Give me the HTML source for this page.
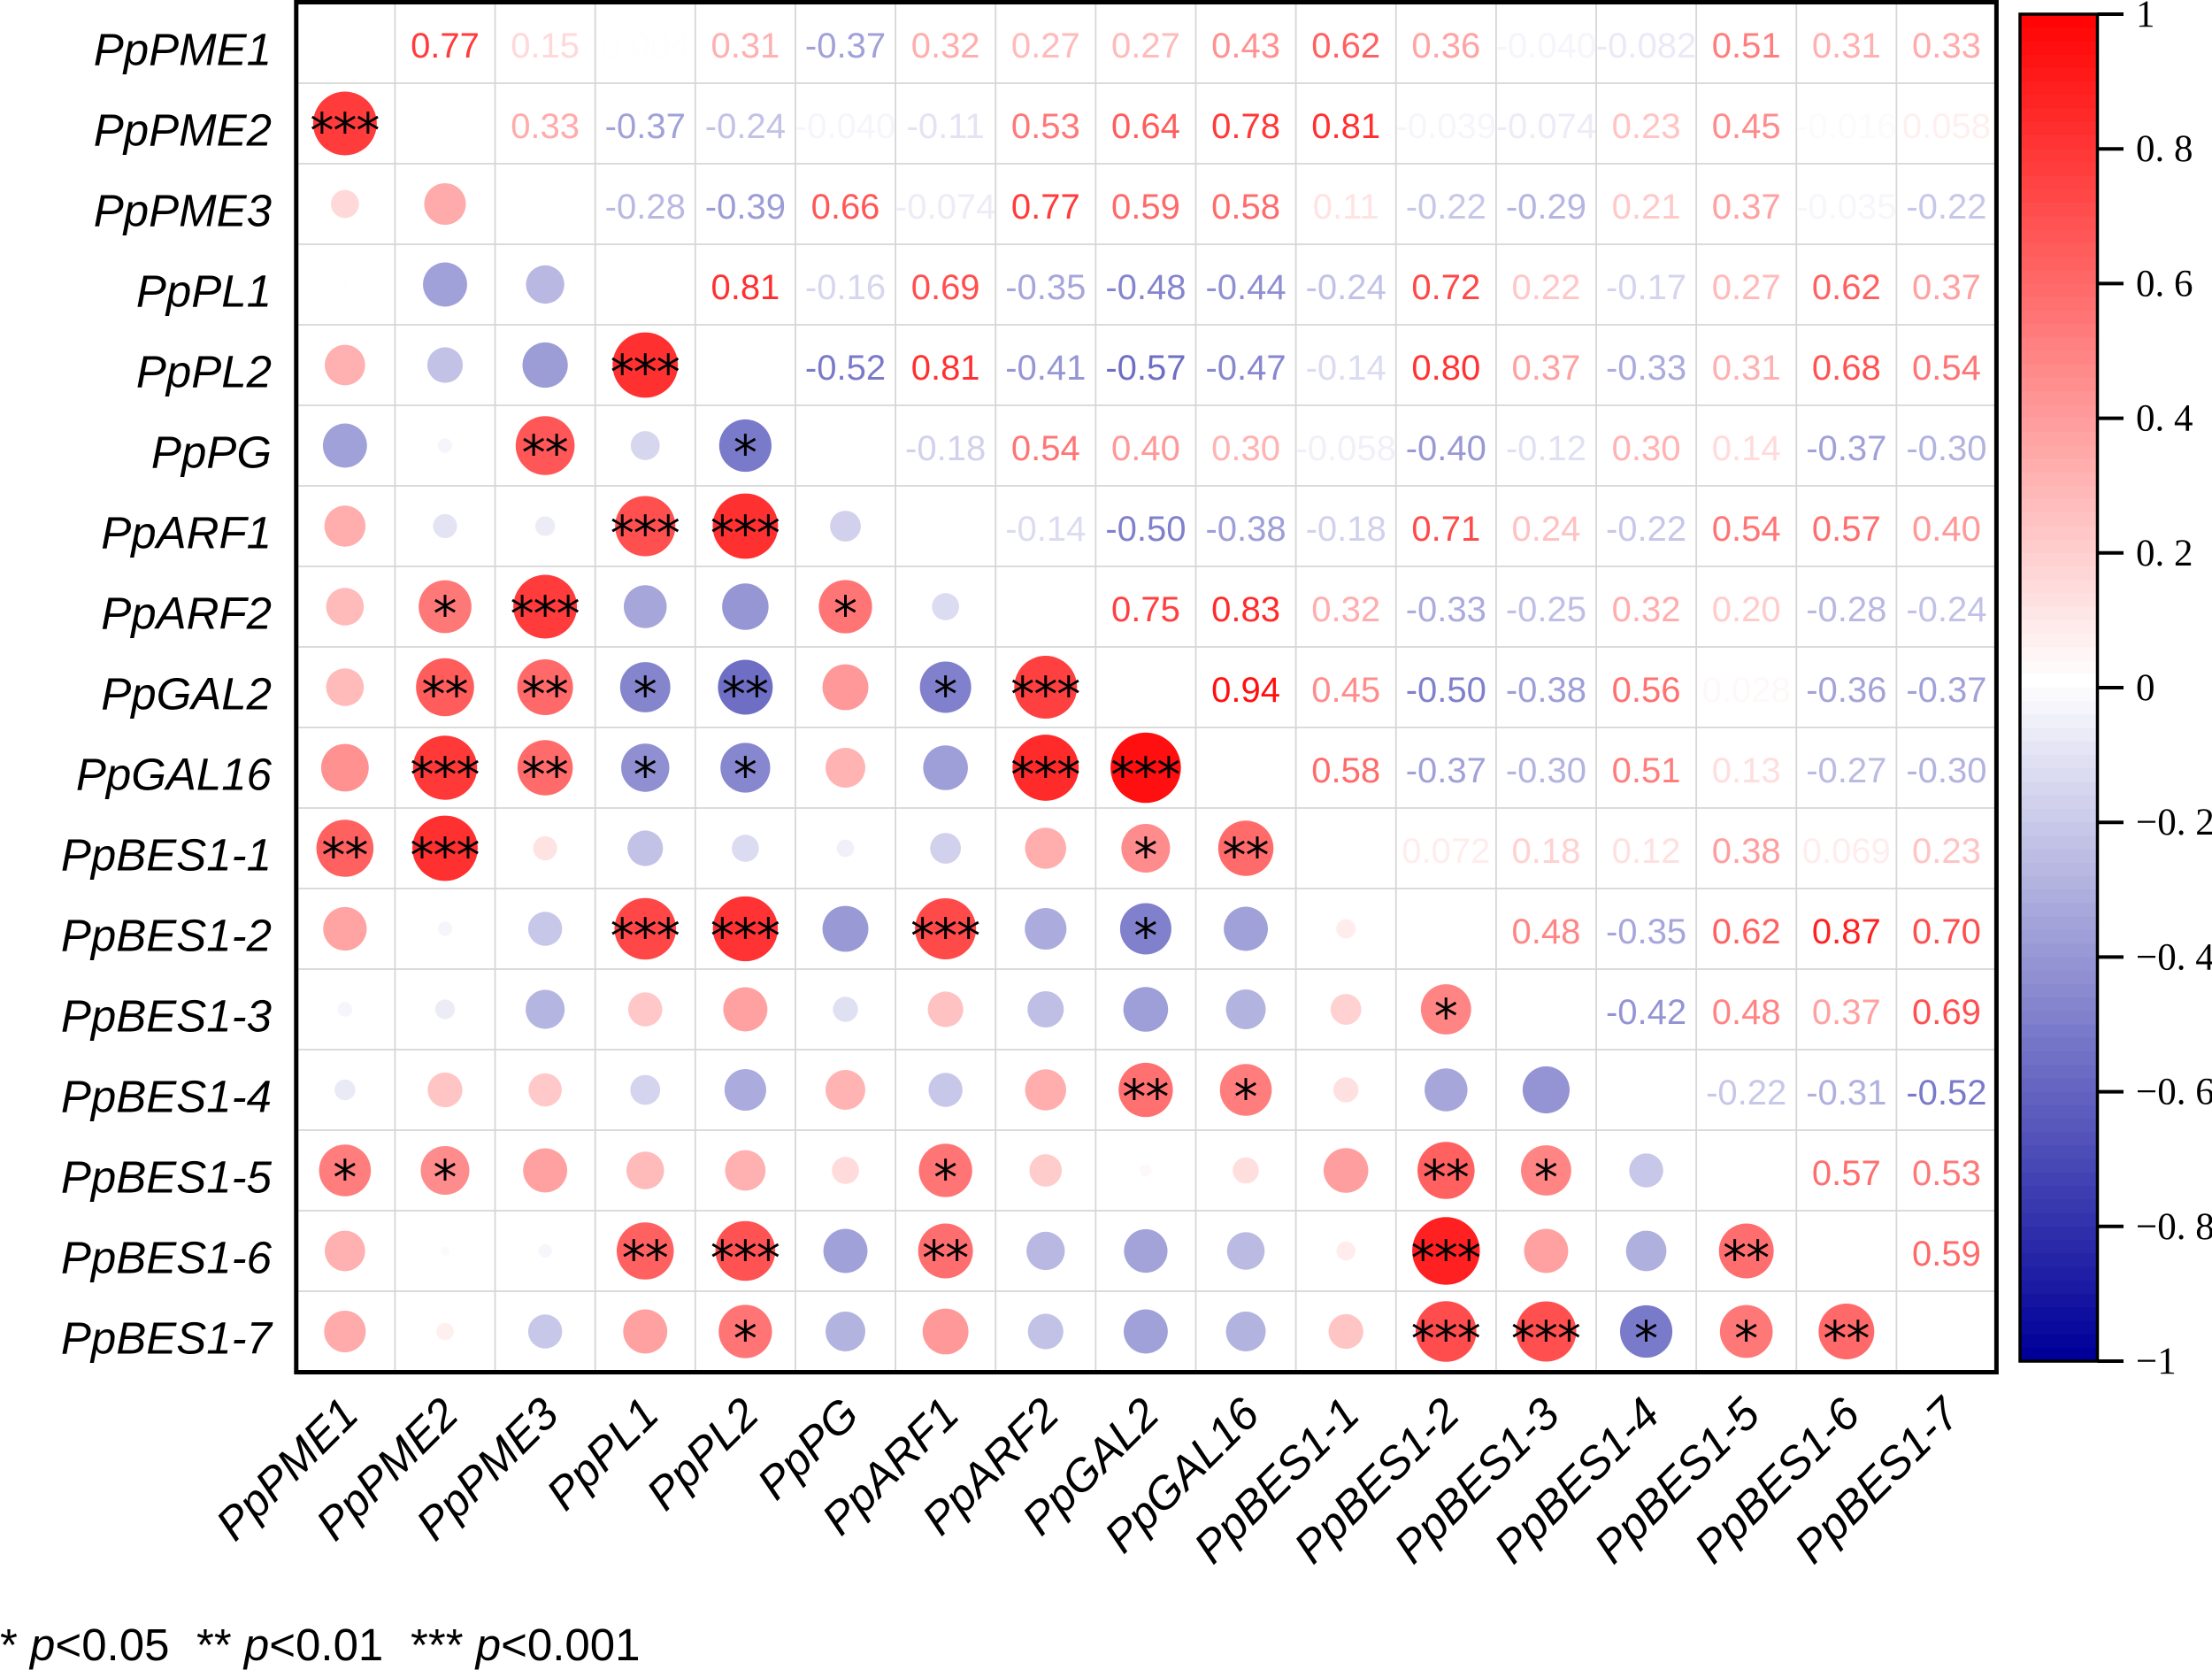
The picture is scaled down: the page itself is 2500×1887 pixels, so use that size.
<!DOCTYPE html>
<html lang="en">
<head>
<meta charset="utf-8">
<title>Correlation matrix</title>
<style>
html,body{margin:0;padding:0;background:#fff;}
svg{display:block;}
text{font-family:"Liberation Sans",sans-serif;}
.val{font-size:40px;text-anchor:middle;}
.lab{font-size:51px;font-style:italic;fill:#000;}
.star{font-family:"DejaVu Sans",sans-serif;font-size:54px;text-anchor:middle;fill:#000;letter-spacing:-1px;}
.tick{font-family:"Liberation Serif",serif;font-size:43px;fill:#000;}
.foot{font-size:51px;fill:#000;}
</style>
</head>
<body>
<svg id="chart" xmlns="http://www.w3.org/2000/svg" width="2500" height="1887" viewBox="0 0 2500 1887">
  <rect x="0" y="0" width="2500" height="1887" fill="#ffffff"/>
  <g id="grid"></g>
  <g id="circles"></g>
  <g id="values"></g>
  <g id="stars"></g>
  <rect x="334.8" y="2.5" width="1921.6" height="1548" fill="none" stroke="#000" stroke-width="5"/>
  <g id="ylabels"></g>
  <g id="xlabels"></g>
  <g id="colorbar"></g>
  <g>
    <text class="foot" x="0" y="1876">* <tspan font-style="italic">p</tspan>&lt;0.05</text>
    <text class="foot" x="222" y="1876">** <tspan font-style="italic">p</tspan>&lt;0.01</text>
    <text class="foot" x="464" y="1876">*** <tspan font-style="italic">p</tspan>&lt;0.001</text>
  </g>
</svg>
<script>
const genes = ["PpPME1","PpPME2","PpPME3","PpPL1","PpPL2","PpPG","PpARF1","PpARF2","PpGAL2","PpGAL16","PpBES1-1","PpBES1-2","PpBES1-3","PpBES1-4","PpBES1-5","PpBES1-6","PpBES1-7"];

// Upper-triangle correlations: each row starts at the column right after the diagonal.
const corrUpper = [
  [0.77,0.15,0.004,0.31,-0.37,0.32,0.27,0.27,0.43,0.62,0.36,-0.040,-0.082,0.51,0.31,0.33],
  [0.33,-0.37,-0.24,-0.040,-0.11,0.53,0.64,0.78,0.81,-0.039,-0.074,0.23,0.45,-0.016,0.058],
  [-0.28,-0.39,0.66,-0.074,0.77,0.59,0.58,0.11,-0.22,-0.29,0.21,0.37,-0.035,-0.22],
  [0.81,-0.16,0.69,-0.35,-0.48,-0.44,-0.24,0.72,0.22,-0.17,0.27,0.62,0.37],
  [-0.52,0.81,-0.41,-0.57,-0.47,-0.14,0.80,0.37,-0.33,0.31,0.68,0.54],
  [-0.18,0.54,0.40,0.30,-0.058,-0.40,-0.12,0.30,0.14,-0.37,-0.30],
  [-0.14,-0.50,-0.38,-0.18,0.71,0.24,-0.22,0.54,0.57,0.40],
  [0.75,0.83,0.32,-0.33,-0.25,0.32,0.20,-0.28,-0.24],
  [0.94,0.45,-0.50,-0.38,0.56,0.028,-0.36,-0.37],
  [0.58,-0.37,-0.30,0.51,0.13,-0.27,-0.30],
  [0.072,0.18,0.12,0.38,0.069,0.23],
  [0.48,-0.35,0.62,0.87,0.70],
  [-0.42,0.48,0.37,0.69],
  [-0.22,-0.31,-0.52],
  [0.57,0.53],
  [0.59],
  []
];

// Lower-triangle significance star counts: each row lists columns 0..row-1.
const starLower = [
  [],
  [3],
  [0,0],
  [0,0,0],
  [0,0,0,3],
  [0,0,2,0,1],
  [0,0,0,3,3,0],
  [0,1,3,0,0,1,0],
  [0,2,2,1,2,0,1,3],
  [0,3,2,1,1,0,0,3,3],
  [2,3,0,0,0,0,0,0,1,2],
  [0,0,0,3,3,0,3,0,1,0,0],
  [0,0,0,0,0,0,0,0,0,0,0,1],
  [0,0,0,0,0,0,0,0,2,1,0,0,0],
  [1,1,0,0,0,0,1,0,0,0,0,2,1,0],
  [0,0,0,2,3,0,2,0,0,0,0,3,0,0,2],
  [0,0,0,0,1,0,0,0,0,0,0,3,3,1,1,2]
];

const colorbarTicks = [1,0.8,0.6,0.4,0.2,0,-0.2,-0.4,-0.6,-0.8,-1];
const colorbarTickLabels = ["1","0. 8","0. 6","0. 4","0. 2","0","\u22120. 2","\u22120. 4","\u22120. 6","\u22120. 8","\u22121"];

const NS = "http://www.w3.org/2000/svg";
const plotLeft = 333.3, plotTop = 3, colW = 113.13, rowH = 91;
const barLeft = 2283, barRight = 2370.5, barTop = 16, barBottom = 1538, barBands = 100;

function xEdge(i){ return plotLeft + i * colW; }
function yEdge(j){ return plotTop + j * rowH; }
function xCenter(i){ return xEdge(i) + colW / 2; }
function yCenter(j){ return yEdge(j) + rowH / 2; }
function radius(v){ return 41 * Math.sqrt(Math.abs(v)); }
function barY(v){ return barTop + (1 - v) / 2 * (barBottom - barTop); }
function color(v){
  const a = Math.min(1, Math.abs(v));
  if (v >= 0) {
    const c = Math.round(255 * (1 - a));
    return "rgb(255," + c + "," + c + ")";
  }
  const c = Math.round(255 * (1 - a));
  const b = Math.round(255 - a * 102);
  return "rgb(" + c + "," + c + "," + b + ")";
}
function fmt(v){
  const a = Math.abs(v);
  return a < 0.1 ? v.toFixed(3) : v.toFixed(2);
}
function corr(r, c){
  return r < c ? corrUpper[r][c - r - 1] : corrUpper[c][r - c - 1];
}
function mk(tag, parent, attrs){
  const el = document.createElementNS(NS, tag);
  for (const k in attrs) el.setAttribute(k, attrs[k]);
  parent.appendChild(el);
  return el;
}

const n = genes.length;
const gridG = document.getElementById("grid");
const circlesG = document.getElementById("circles");
const valuesG = document.getElementById("values");
const starsG = document.getElementById("stars");
const yLabelsG = document.getElementById("ylabels");
const xLabelsG = document.getElementById("xlabels");
const barG = document.getElementById("colorbar");

for (let i = 1; i < n; i++) {
  const vl = mk("line", gridG, {x1: xEdge(i), x2: xEdge(i), y1: yEdge(0), y2: yEdge(n), stroke: "#d6d6d6", "stroke-width": 1.8});
  
  
  const hl = mk("line", gridG, {x1: xEdge(0), x2: xEdge(n), y1: yEdge(i), y2: yEdge(i), stroke: "#d6d6d6", "stroke-width": 1.8});
  
  
}

for (let r = 0; r < n; r++) {
  for (let c = 0; c < n; c++) {
    if (r === c) continue;
    const v = corr(r, c);
    if (r < c) {
      const t = mk("text", valuesG, {"class": "val", x: xCenter(c), y: yCenter(r) + 16.5, fill: color(v)});
      t.textContent = fmt(v);
      
      
    } else {
      const dot = mk("circle", circlesG, {cx: xCenter(c), cy: yCenter(r), r: radius(v), fill: color(v)});
      
      
      const count = starLower[r][c];
      if (count > 0) {
        const s = mk("text", starsG, {"class": "star", x: xCenter(c) - 0.5, y: yCenter(r) + 27});
        s.textContent = "*".repeat(count);
        
        
      }
    }
  }
}

genes.forEach(function(g, i){
  const yl = mk("text", yLabelsG, {"class": "lab", x: 307, y: yCenter(i) + 25, "text-anchor": "end"});
  yl.textContent = g;
  
  
  const px = xCenter(i) + 18, py = 1601;
  const xl = mk("text", xLabelsG, {"class": "lab", x: px, y: py, "text-anchor": "end", transform: "rotate(-45 " + px + " " + py + ")"});
  xl.textContent = g;
  
  
});

for (let b = 0; b < barBands; b++) {
  const top = barTop + b * (barBottom - barTop) / barBands;
  const h = (barBottom - barTop) / barBands;
  const lowerEdge = 1 - 2 * (b + 1) / barBands;
  const band = mk("rect", barG, {x: barLeft, y: top, width: barRight - barLeft, height: h + 0.5, fill: color(lowerEdge)});
  
  
}
const frame = mk("rect", barG, {x: barLeft, y: barTop, width: barRight - barLeft, height: barBottom - barTop, fill: "none", stroke: "#000", "stroke-width": 3.5});



colorbarTicks.forEach(function(v, i){
  const y = barY(v);
  const tk = mk("line", barG, {x1: barRight, x2: 2400, y1: y, y2: y, stroke: "#000", "stroke-width": 4});
  
  
  const lb = mk("text", barG, {"class": "tick", x: 2414, y: y + 14});
  lb.textContent = colorbarTickLabels[i];
  
  
});
</script>
</body>
</html>
